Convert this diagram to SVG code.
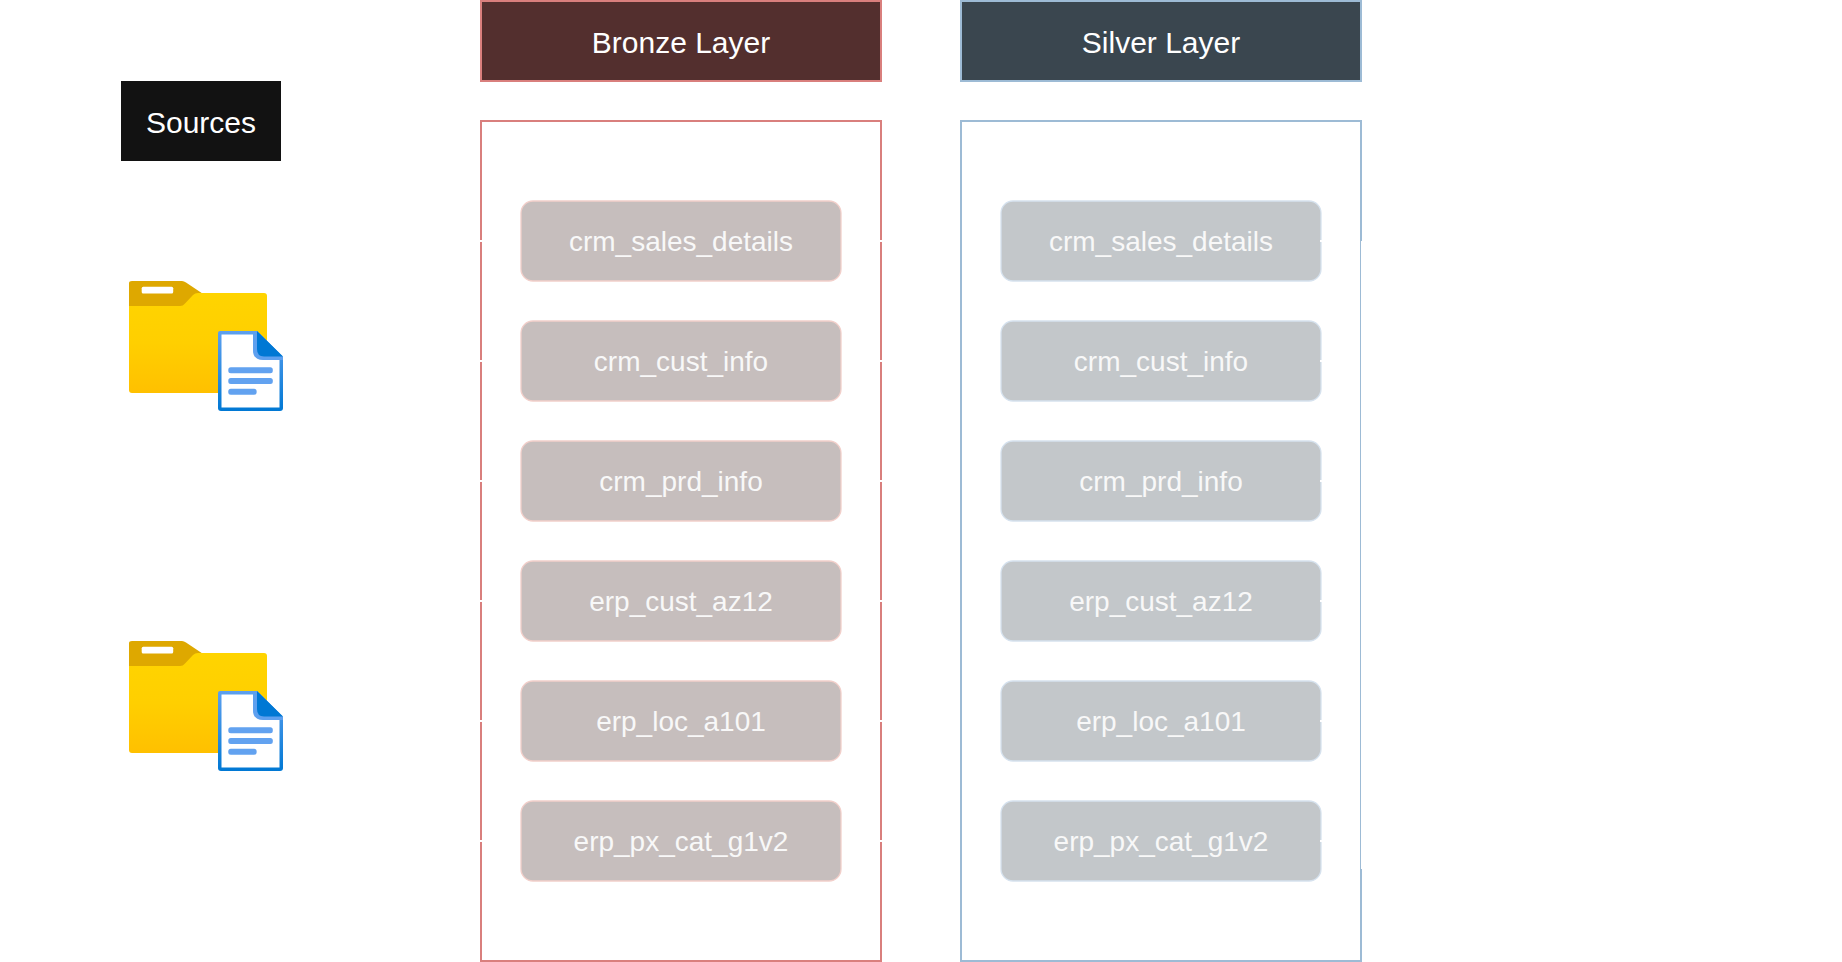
<svg xmlns="http://www.w3.org/2000/svg" xmlns:xlink="http://www.w3.org/1999/xlink" width="1842" height="962" viewBox="0 0 1842 962">
<style>
text{font-family:"Liberation Sans",Arial,sans-serif;text-anchor:middle}
.h{font-size:30px;fill:#fff}
.t{font-size:28px;fill:#f8f8f8}
.bb{fill:#fff;stroke:#d97f7d;stroke-width:2}
.bh{fill:#532f2e;stroke:#d97f7d;stroke-width:2}
.sb{fill:#fff;stroke:#9dbbd5;stroke-width:2}
.sh{fill:#3a464f;stroke:#9dbbd5;stroke-width:2}
.br{fill:#c6bebd;stroke:#f2cfca;stroke-width:1.300}
.sr{fill:#c3c7ca;stroke:#d6e2ee;stroke-width:1.300}
.c{fill:none;stroke:#fff;stroke-width:2}
</style>
<defs>
<linearGradient id="fg" x1="0" y1="0" x2="0" y2="1"><stop offset="0" stop-color="#ffd400"/><stop offset="0.5" stop-color="#ffcf00"/><stop offset="1" stop-color="#ffc000"/></linearGradient>
<linearGradient id="dg" x1="0" y1="0" x2="0" y2="1"><stop offset="0" stop-color="#5ea0ef"/><stop offset="1" stop-color="#0078d4"/></linearGradient>
<g id="folder">
<path d="M129 295V390Q129 393 132 393H264Q267 393 267 390V296Q267 293 264 293H130Z" fill="url(#fg)"/>
<path d="M129 306V283Q129 281 132 281H182Q184 281 186 282.500L201.700 293H198Q195 293 193 295L185 303.500Q183 306 180 306Z" fill="#dea800"/>
<rect x="141.700" y="286.700" width="31.500" height="6.800" rx="1.500" fill="#fff"/>
<path d="M220 331H257L283 357V408Q283 411 280 411H221Q218 411 218 408V333Q218 331 220 331Z" fill="url(#dg)"/>
<path d="M221.500 334.500H253.500V350Q253.500 359 262 359H279.500V407.500H221.500Z" fill="#fff"/>
<path d="M253 331H257L283 357V360H263Q253 360 253 350Z" fill="#5ea0ef"/>
<path d="M257 331L283 356.500H264Q257 356.500 257 349Z" fill="#0078d4"/>
<rect x="228.300" y="367.300" width="44.500" height="6" rx="2.500" fill="#62a2f0"/>
<rect x="228.300" y="378" width="44.500" height="6" rx="2.500" fill="#62a2f0"/>
<rect x="228.300" y="388.700" width="28.300" height="6" rx="2.500" fill="#62a2f0"/>
</g>
</defs>
<rect width="1842" height="962" fill="#fff"/>
<g id="sources"><rect x="121" y="81" width="160" height="80" fill="#121212"/><text class="h" x="201" y="133">Sources</text></g>
<g id="source-crm"><use href="#folder"/></g>
<g id="source-erp"><use href="#folder" y="360"/></g>
<g id="bronze-header"><rect class="bh" x="481" y="1" width="400" height="80"/><text class="h" x="681" y="53">Bronze Layer</text></g>
<g id="bronze-box"><rect class="bb" x="481" y="121" width="400" height="840"/></g>
<g id="silver-header"><rect class="sh" x="961" y="1" width="400" height="80"/><text class="h" x="1161" y="53">Silver Layer</text></g>
<g id="silver-box"><rect class="sb" x="961" y="121" width="400" height="840"/></g>
<g id="b1"><rect class="br" x="521" y="201" width="320" height="80" rx="12"/><text class="t" x="681" y="251">crm_sales_details</text></g>
<g id="b2"><rect class="br" x="521" y="321" width="320" height="80" rx="12"/><text class="t" x="681" y="371">crm_cust_info</text></g>
<g id="b3"><rect class="br" x="521" y="441" width="320" height="80" rx="12"/><text class="t" x="681" y="491">crm_prd_info</text></g>
<g id="b4"><rect class="br" x="521" y="561" width="320" height="80" rx="12"/><text class="t" x="681" y="611">erp_cust_az12</text></g>
<g id="b5"><rect class="br" x="521" y="681" width="320" height="80" rx="12"/><text class="t" x="681" y="731">erp_loc_a101</text></g>
<g id="b6"><rect class="br" x="521" y="801" width="320" height="80" rx="12"/><text class="t" x="681" y="851">erp_px_cat_g1v2</text></g>
<g id="s1"><rect class="sr" x="1001" y="201" width="320" height="80" rx="12"/><text class="t" x="1161" y="251">crm_sales_details</text></g>
<g id="s2"><rect class="sr" x="1001" y="321" width="320" height="80" rx="12"/><text class="t" x="1161" y="371">crm_cust_info</text></g>
<g id="s3"><rect class="sr" x="1001" y="441" width="320" height="80" rx="12"/><text class="t" x="1161" y="491">crm_prd_info</text></g>
<g id="s4"><rect class="sr" x="1001" y="561" width="320" height="80" rx="12"/><text class="t" x="1161" y="611">erp_cust_az12</text></g>
<g id="s5"><rect class="sr" x="1001" y="681" width="320" height="80" rx="12"/><text class="t" x="1161" y="731">erp_loc_a101</text></g>
<g id="s6"><rect class="sr" x="1001" y="801" width="320" height="80" rx="12"/><text class="t" x="1161" y="851">erp_px_cat_g1v2</text></g>
<g id="connectors">
<path class="c" d="M470 241H490M470 361H490M470 481H490M470 601H490M470 721H490M470 841H490"/>
<path class="c" d="M872 241H892M872 361H892M872 481H892M872 601H892M872 721H892M872 841H892"/>
<path class="c" d="M1320 241H1323M1320 361H1323M1320 481H1323M1320 601H1323M1320 721H1323M1320 841H1323"/>
<path class="c" d="M1362 241V869"/>
</g>
</svg>
